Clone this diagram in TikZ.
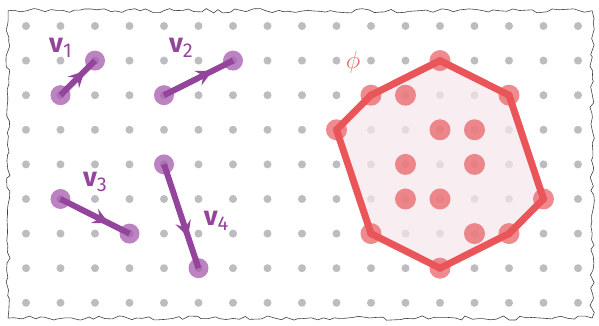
\documentclass[tikz,border=0pt]{standalone}
\usepackage{fontspec}
\setsansfont{Fira Sans}
\usetikzlibrary{decorations.pathmorphing,decorations.markings,arrows.meta}
\definecolor{vpurple}{HTML}{93459B}
\definecolor{vlight}{HTML}{A55AAD}
\definecolor{pred}{HTML}{EA5559}
\definecolor{pdot}{HTML}{E85A5E}
\definecolor{pfill}{HTML}{F5E8EB}
\definecolor{gdot}{HTML}{BCBCC1}
\tikzset{
  gdotst/.style={fill=gdot},
  endpt/.style={circle,fill=vlight,fill opacity=0.75,minimum size=20pt,inner sep=0pt},
  vec/.style={draw=vpurple,line width=6pt,postaction={decorate},
    decoration={markings,mark=at position 0.7 with {\arrow[vpurple]{Stealth[length=16pt,width=16pt,inset=6pt]}}}},
  vlabel/.style={text=vpurple,font=\sffamily\fontsize{27}{27}\selectfont,inner sep=0pt},
  reddot/.style={circle,fill=pdot,fill opacity=0.7,minimum size=21pt,inner sep=0pt},
  polyline/.style={draw=pred,line width=7pt,line join=round},
}
\newcommand{\vlab}[1]{{\bfseries v}{\fontsize{20}{20}\selectfont\raisebox{-5pt}{#1}}}
\begin{document}
\begin{tikzpicture}[x=34.5pt,y=-34.6pt]
\useasboundingbox (-0.7536,-0.7514) rectangle (16.609,8.670);
% torn border
\pgfmathsetseed{7}
\draw[black!75,line width=0.6pt,decorate,decoration={random steps,segment length=6pt,amplitude=2.2pt}]
  (-0.52,-0.44) -- (16.41,-0.44) -- (16.41,8.44) -- (-0.52,8.44) -- cycle;
% grid dots
\foreach \i in {0,...,16}{\foreach \j in {0,...,8}{\fill[gdotst] (\i,\j) circle (4pt);}}
% polytope
\coordinate (p1) at (12,1);
\coordinate (p2) at (14,2);
\coordinate (p3) at (15,5);
\coordinate (p4) at (14,6);
\coordinate (p5) at (12,7);
\coordinate (p6) at (10,6);
\coordinate (p7) at (9,3);
\coordinate (p8) at (10,2);
\fill[pfill,fill opacity=0.72] (p1) -- (p2) -- (p3) -- (p4) -- (p5) -- (p6) -- (p7) -- (p8) -- cycle;
\foreach \n/\p in {r1/{(12,1)},r2/{(14,2)},r3/{(15,5)},r4/{(14,6)},r5/{(12,7)},r6/{(10,6)},r7/{(9,3)},r8/{(10,2)},
  q1/{(11,2)},q2/{(12,3)},q3/{(13,3)},q4/{(11,4)},q5/{(13,4)},q6/{(11,5)},q7/{(12,5)},q8/{(13,6)}}
  {\node[reddot] (\n) at \p {};}
\draw[polyline] (p1) -- (p2) -- (p3) -- (p4) -- (p5) -- (p6) -- (p7) -- (p8) -- cycle;
\node[text=pred!90,font=\fontsize{32}{32}\selectfont,inner sep=0pt] (phi) at (9.48,1.04) {$\phi$};
% vectors
\node[endpt] (a1) at (1,2) {};
\node[endpt] (b1) at (2,1) {};
\node[endpt] (a2) at (4,2) {};
\node[endpt] (b2) at (6,1) {};
\node[endpt] (a3) at (1,5) {};
\node[endpt] (b3) at (3,6) {};
\node[endpt] (a4) at (4,4) {};
\node[endpt] (b4) at (5,7) {};
\draw[vec] (a1.center) -- (b1.center);
\draw[vec] (a2.center) -- (b2.center);
\draw[vec] (a3.center) -- (b3.center);
\draw[vec] (a4.center) -- (b4.center);
\node[vlabel] (l1) at (1.0,0.63) {\vlab{1}};
\node[vlabel] (l2) at (4.49,0.63) {\vlab{2}};
\node[vlabel] (l3) at (2.0,4.52) {\vlab{3}};
\node[vlabel] (l4) at (5.51,5.62) {\vlab{4}};
\end{tikzpicture}
\end{document}
